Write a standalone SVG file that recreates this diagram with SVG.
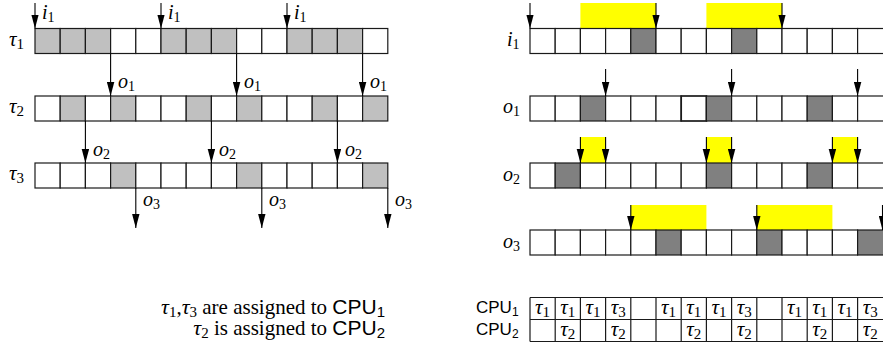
<svg xmlns="http://www.w3.org/2000/svg" width="883" height="352" viewBox="0 0 883 352">
<style>
.c{fill:#fff;stroke:#1a1a1a;stroke-width:1.2}
.g{fill:#c0c0c0;stroke:#1a1a1a;stroke-width:1.2}
.d{fill:#808080;stroke:#1a1a1a;stroke-width:1.2}
.y{fill:#ffff00;stroke:none}
.a{stroke:#000;stroke-width:1.1;fill:none;marker-end:url(#ah)}
.t{font-family:"Liberation Serif","Times New Roman",serif;font-style:italic;font-size:20px;fill:#000}
.s{font-style:normal;font-size:14px}
.tb{font-size:21px}
.tb .s{font-size:15px}
.n{font-family:"Liberation Serif","Times New Roman",serif;font-size:21px;fill:#000}
.ng{font-style:italic;font-size:22px}
.ns{font-size:15px}
.cpu{font-family:"Liberation Sans",Arial,sans-serif;font-style:normal;font-size:17px}
.cs{font-size:12px}
.big{font-size:21px}
.bigs{font-size:15px}
.tl{fill:none;stroke:#1a1a1a;stroke-width:1.2}
</style>
<defs>
<marker id="ah" viewBox="0 0 14 8" refX="14" refY="4" markerWidth="14" markerHeight="8" markerUnits="userSpaceOnUse" orient="auto"><path d="M0,0.3 L14,4 L0,7.7 z" fill="#000"/></marker>
</defs>

<g id="windows">
<rect class="y" x="580.4" y="3" width="75.6" height="25.5"/>
<rect class="y" x="706.4" y="3" width="75.6" height="25.5"/>
<rect class="y" x="580.4" y="137" width="25.2" height="26"/>
<rect class="y" x="706.4" y="137" width="25.2" height="26"/>
<rect class="y" x="832.4" y="137" width="25.2" height="26"/>
<rect class="y" x="630.8" y="205" width="75.6" height="25"/>
<rect class="y" x="756.8" y="205" width="75.6" height="25"/>
</g>

<g id="tau1">
<text class="t tb" x="9" y="46">τ<tspan class="s" dy="3">1</tspan></text>
<rect class="g" x="35" y="28.5" width="25.2" height="25"/>
<rect class="g" x="60.2" y="28.5" width="25.2" height="25"/>
<rect class="g" x="85.4" y="28.5" width="25.2" height="25"/>
<rect class="c" x="110.6" y="28.5" width="25.2" height="25"/>
<rect class="c" x="135.8" y="28.5" width="25.2" height="25"/>
<rect class="g" x="161" y="28.5" width="25.2" height="25"/>
<rect class="g" x="186.2" y="28.5" width="25.2" height="25"/>
<rect class="g" x="211.4" y="28.5" width="25.2" height="25"/>
<rect class="c" x="236.6" y="28.5" width="25.2" height="25"/>
<rect class="c" x="261.8" y="28.5" width="25.2" height="25"/>
<rect class="g" x="287" y="28.5" width="25.2" height="25"/>
<rect class="g" x="312.2" y="28.5" width="25.2" height="25"/>
<rect class="g" x="337.4" y="28.5" width="25.2" height="25"/>
<rect class="c" x="362.6" y="28.5" width="25.2" height="25"/>
</g>
<g id="tau2">
<text class="t tb" x="9" y="113">τ<tspan class="s" dy="3">2</tspan></text>
<rect class="c" x="35" y="96" width="25.2" height="25"/>
<rect class="g" x="60.2" y="96" width="25.2" height="25"/>
<rect class="c" x="85.4" y="96" width="25.2" height="25"/>
<rect class="g" x="110.6" y="96" width="25.2" height="25"/>
<rect class="c" x="135.8" y="96" width="25.2" height="25"/>
<rect class="c" x="161" y="96" width="25.2" height="25"/>
<rect class="g" x="186.2" y="96" width="25.2" height="25"/>
<rect class="c" x="211.4" y="96" width="25.2" height="25"/>
<rect class="g" x="236.6" y="96" width="25.2" height="25"/>
<rect class="c" x="261.8" y="96" width="25.2" height="25"/>
<rect class="c" x="287" y="96" width="25.2" height="25"/>
<rect class="g" x="312.2" y="96" width="25.2" height="25"/>
<rect class="c" x="337.4" y="96" width="25.2" height="25"/>
<rect class="g" x="362.6" y="96" width="25.2" height="25"/>
</g>
<g id="tau3">
<text class="t tb" x="9" y="180">τ<tspan class="s" dy="3">3</tspan></text>
<rect class="c" x="35" y="163" width="25.2" height="25"/>
<rect class="c" x="60.2" y="163" width="25.2" height="25"/>
<rect class="c" x="85.4" y="163" width="25.2" height="25"/>
<rect class="g" x="110.6" y="163" width="25.2" height="25"/>
<rect class="c" x="135.8" y="163" width="25.2" height="25"/>
<rect class="c" x="161" y="163" width="25.2" height="25"/>
<rect class="c" x="186.2" y="163" width="25.2" height="25"/>
<rect class="c" x="211.4" y="163" width="25.2" height="25"/>
<rect class="g" x="236.6" y="163" width="25.2" height="25"/>
<rect class="c" x="261.8" y="163" width="25.2" height="25"/>
<rect class="c" x="287" y="163" width="25.2" height="25"/>
<rect class="c" x="312.2" y="163" width="25.2" height="25"/>
<rect class="c" x="337.4" y="163" width="25.2" height="25"/>
<rect class="g" x="362.6" y="163" width="25.2" height="25"/>
</g>

<g id="row-i1">
<text class="t" x="507" y="46">i<tspan class="s" dy="3">1</tspan></text>
<rect class="c" x="530" y="28.5" width="25.2" height="25"/>
<rect class="c" x="555.2" y="28.5" width="25.2" height="25"/>
<rect class="c" x="580.4" y="28.5" width="25.2" height="25"/>
<rect class="c" x="605.6" y="28.5" width="25.2" height="25"/>
<rect class="d" x="630.8" y="28.5" width="25.2" height="25"/>
<rect class="c" x="656" y="28.5" width="25.2" height="25"/>
<rect class="c" x="681.2" y="28.5" width="25.2" height="25"/>
<rect class="c" x="706.4" y="28.5" width="25.2" height="25"/>
<rect class="d" x="731.6" y="28.5" width="25.2" height="25"/>
<rect class="c" x="756.8" y="28.5" width="25.2" height="25"/>
<rect class="c" x="782" y="28.5" width="25.2" height="25"/>
<rect class="c" x="807.2" y="28.5" width="25.2" height="25"/>
<rect class="c" x="832.4" y="28.5" width="25.2" height="25"/>
<rect class="c" x="857.6" y="28.5" width="30" height="25"/>
</g>
<g id="row-o1">
<text class="t" x="503" y="113">o<tspan class="s" dy="3">1</tspan></text>
<rect class="c" x="530" y="96" width="25.2" height="25"/>
<rect class="c" x="555.2" y="96" width="25.2" height="25"/>
<rect class="d" x="580.4" y="96" width="25.2" height="25"/>
<rect class="c" x="605.6" y="96" width="25.2" height="25"/>
<rect class="c" x="630.8" y="96" width="25.2" height="25"/>
<rect class="c" x="656" y="96" width="25.2" height="25"/>
<rect class="c" x="681.2" y="96" width="25.2" height="25" style="stroke-width:1.7"/>
<rect class="d" x="706.4" y="96" width="25.2" height="25"/>
<rect class="c" x="731.6" y="96" width="25.2" height="25"/>
<rect class="c" x="756.8" y="96" width="25.2" height="25"/>
<rect class="c" x="782" y="96" width="25.2" height="25"/>
<rect class="d" x="807.2" y="96" width="25.2" height="25"/>
<rect class="c" x="832.4" y="96" width="25.2" height="25"/>
<rect class="c" x="857.6" y="96" width="30" height="25"/>
</g>
<g id="row-o2">
<text class="t" x="503" y="181">o<tspan class="s" dy="3">2</tspan></text>
<rect class="c" x="530" y="163" width="25.2" height="25"/>
<rect class="d" x="555.2" y="163" width="25.2" height="25"/>
<rect class="c" x="580.4" y="163" width="25.2" height="25"/>
<rect class="c" x="605.6" y="163" width="25.2" height="25"/>
<rect class="c" x="630.8" y="163" width="25.2" height="25"/>
<rect class="c" x="656" y="163" width="25.2" height="25"/>
<rect class="c" x="681.2" y="163" width="25.2" height="25"/>
<rect class="d" x="706.4" y="163" width="25.2" height="25"/>
<rect class="c" x="731.6" y="163" width="25.2" height="25"/>
<rect class="c" x="756.8" y="163" width="25.2" height="25"/>
<rect class="c" x="782" y="163" width="25.2" height="25"/>
<rect class="d" x="807.2" y="163" width="25.2" height="25"/>
<rect class="c" x="832.4" y="163" width="25.2" height="25"/>
<rect class="c" x="857.6" y="163" width="30" height="25"/>
</g>
<g id="row-o3">
<text class="t" x="503" y="248">o<tspan class="s" dy="3">3</tspan></text>
<rect class="c" x="530" y="230" width="25.2" height="25"/>
<rect class="c" x="555.2" y="230" width="25.2" height="25"/>
<rect class="c" x="580.4" y="230" width="25.2" height="25"/>
<rect class="c" x="605.6" y="230" width="25.2" height="25"/>
<rect class="c" x="630.8" y="230" width="25.2" height="25"/>
<rect class="d" x="656" y="230" width="25.2" height="25"/>
<rect class="c" x="681.2" y="230" width="25.2" height="25"/>
<rect class="c" x="706.4" y="230" width="25.2" height="25"/>
<rect class="c" x="731.6" y="230" width="25.2" height="25"/>
<rect class="d" x="756.8" y="230" width="25.2" height="25"/>
<rect class="c" x="782" y="230" width="25.2" height="25"/>
<rect class="c" x="807.2" y="230" width="25.2" height="25"/>
<rect class="c" x="832.4" y="230" width="25.2" height="25"/>
<rect class="d" x="857.6" y="230" width="30" height="25"/>
</g>

<g id="connectors">
<line class="a" x1="35" y1="3" x2="35" y2="28.5"/>
<line class="a" x1="161" y1="3" x2="161" y2="28.5"/>
<line class="a" x1="287" y1="3" x2="287" y2="28.5"/>
<line class="a" x1="110.6" y1="53.5" x2="110.6" y2="96"/>
<line class="a" x1="236.6" y1="53.5" x2="236.6" y2="96"/>
<line class="a" x1="362.6" y1="53.5" x2="362.6" y2="96"/>
<line class="a" x1="85.4" y1="121" x2="85.4" y2="163"/>
<line class="a" x1="211.4" y1="121" x2="211.4" y2="163"/>
<line class="a" x1="337.4" y1="121" x2="337.4" y2="163"/>
<line class="a" x1="135.8" y1="188" x2="135.8" y2="228"/>
<line class="a" x1="261.8" y1="188" x2="261.8" y2="228"/>
<line class="a" x1="387.8" y1="188" x2="387.8" y2="228"/>
<line class="a" x1="530" y1="3" x2="530" y2="28.5"/>
<line class="a" x1="656" y1="3" x2="656" y2="28.5"/>
<line class="a" x1="782" y1="3" x2="782" y2="28.5"/>
<line class="a" x1="605.6" y1="69" x2="605.6" y2="96"/>
<line class="a" x1="731.6" y1="69" x2="731.6" y2="96"/>
<line class="a" x1="857.6" y1="69" x2="857.6" y2="96"/>
<line class="a" x1="580.4" y1="137" x2="580.4" y2="163"/>
<line class="a" x1="605.6" y1="137" x2="605.6" y2="163"/>
<line class="a" x1="706.4" y1="137" x2="706.4" y2="163"/>
<line class="a" x1="731.6" y1="137" x2="731.6" y2="163"/>
<line class="a" x1="832.4" y1="137" x2="832.4" y2="163"/>
<line class="a" x1="857.6" y1="137" x2="857.6" y2="163"/>
<line class="a" x1="630.8" y1="205" x2="630.8" y2="230"/>
<line class="a" x1="756.8" y1="205" x2="756.8" y2="230"/>
<line class="a" x1="882.5" y1="205" x2="882.5" y2="230"/>
</g>

<g id="arrow-labels">
<text class="t" x="42" y="19">i<tspan class="s" dy="3">1</tspan></text>
<text class="t" x="168" y="19">i<tspan class="s" dy="3">1</tspan></text>
<text class="t" x="294" y="19">i<tspan class="s" dy="3">1</tspan></text>
<text class="t" x="118" y="88">o<tspan class="s" dy="3">1</tspan></text>
<text class="t" x="244" y="88">o<tspan class="s" dy="3">1</tspan></text>
<text class="t" x="370" y="88">o<tspan class="s" dy="3">1</tspan></text>
<text class="t" x="93" y="156">o<tspan class="s" dy="3">2</tspan></text>
<text class="t" x="219" y="156">o<tspan class="s" dy="3">2</tspan></text>
<text class="t" x="345" y="156">o<tspan class="s" dy="3">2</tspan></text>
<text class="t" x="143" y="206">o<tspan class="s" dy="3">3</tspan></text>
<text class="t" x="269" y="206">o<tspan class="s" dy="3">3</tspan></text>
<text class="t" x="395" y="206">o<tspan class="s" dy="3">3</tspan></text>
</g>

<g id="assignment">
<text class="n" x="385" y="314" text-anchor="end"><tspan class="ng">τ</tspan><tspan class="ns" dy="2.5">1</tspan><tspan dy="-2.5">,</tspan><tspan class="ng">τ</tspan><tspan class="ns" dy="2.5">3</tspan><tspan dy="-2.5"> are assigned to </tspan><tspan class="cpu big">CPU</tspan><tspan class="cpu bigs" dy="2.5">1</tspan></text>
<text class="n" x="385" y="335" text-anchor="end"><tspan class="ng">τ</tspan><tspan class="ns" dy="2.5">2</tspan><tspan dy="-2.5"> is assigned to </tspan><tspan class="cpu big">CPU</tspan><tspan class="cpu bigs" dy="2.5">2</tspan></text>
</g>

<g id="cpu-table">
<text class="cpu" x="476" y="313">CPU<tspan class="cs" dy="3">1</tspan></text>
<text class="cpu" x="476" y="335">CPU<tspan class="cs" dy="3">2</tspan></text>
<path class="tl" d="M530,297.5 H890 M530,319.5 H890 M530,341.5 H890 M530,297.5 V341.5 M555.2,297.5 V341.5 M580.4,297.5 V341.5 M605.6,297.5 V341.5 M630.8,297.5 V341.5 M656,297.5 V341.5 M681.2,297.5 V341.5 M706.4,297.5 V341.5 M731.6,297.5 V341.5 M756.8,297.5 V341.5 M782,297.5 V341.5 M807.2,297.5 V341.5 M832.4,297.5 V341.5 M857.6,297.5 V341.5"/>
<g class="t tb" text-anchor="middle">
<text x="542.6" y="314">τ<tspan class="s" dy="3">1</tspan></text>
<text x="567.8" y="314">τ<tspan class="s" dy="3">1</tspan></text>
<text x="593" y="314">τ<tspan class="s" dy="3">1</tspan></text>
<text x="618.2" y="314">τ<tspan class="s" dy="3">3</tspan></text>
<text x="668.6" y="314">τ<tspan class="s" dy="3">1</tspan></text>
<text x="693.8" y="314">τ<tspan class="s" dy="3">1</tspan></text>
<text x="719" y="314">τ<tspan class="s" dy="3">1</tspan></text>
<text x="744.2" y="314">τ<tspan class="s" dy="3">3</tspan></text>
<text x="794.6" y="314">τ<tspan class="s" dy="3">1</tspan></text>
<text x="819.8" y="314">τ<tspan class="s" dy="3">1</tspan></text>
<text x="845" y="314">τ<tspan class="s" dy="3">1</tspan></text>
<text x="870.2" y="314">τ<tspan class="s" dy="3">3</tspan></text>
<text x="567.8" y="336">τ<tspan class="s" dy="3">2</tspan></text>
<text x="618.2" y="336">τ<tspan class="s" dy="3">2</tspan></text>
<text x="693.8" y="336">τ<tspan class="s" dy="3">2</tspan></text>
<text x="744.2" y="336">τ<tspan class="s" dy="3">2</tspan></text>
<text x="819.8" y="336">τ<tspan class="s" dy="3">2</tspan></text>
<text x="870.2" y="336">τ<tspan class="s" dy="3">2</tspan></text>
</g>
</g>
</svg>
